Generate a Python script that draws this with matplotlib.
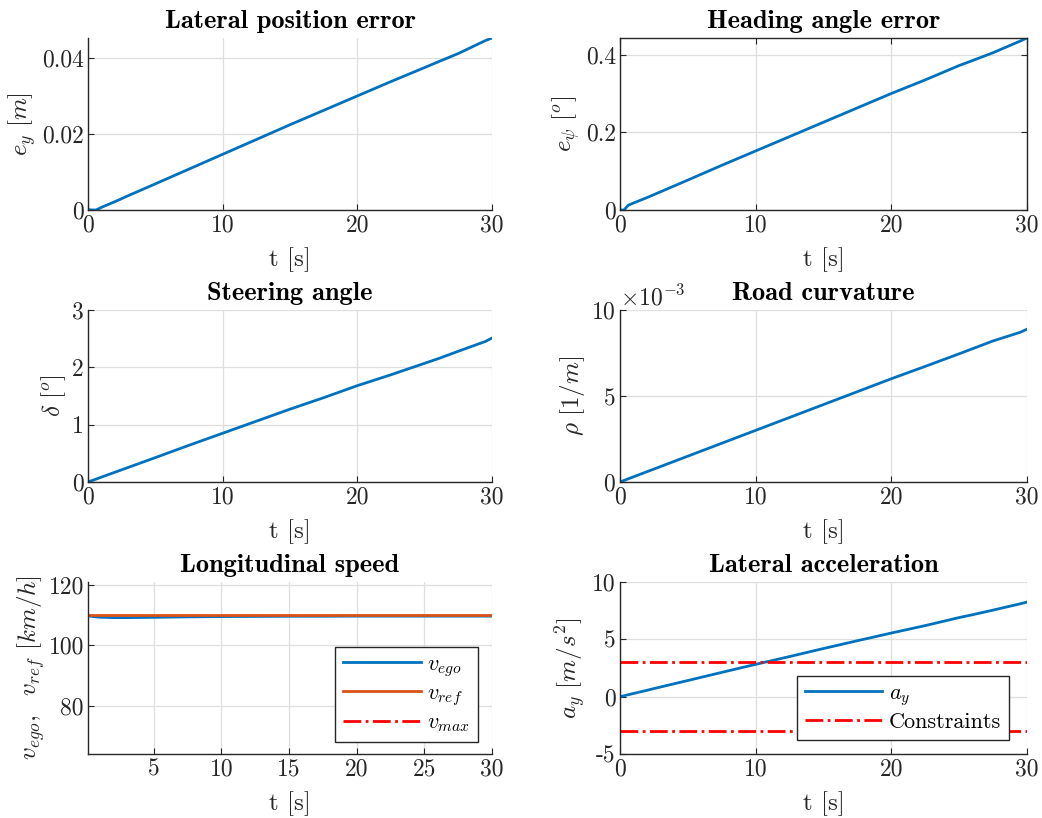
import matplotlib
matplotlib.use("Agg")
import matplotlib.pyplot as plt
from matplotlib.ticker import FuncFormatter

plt.rcParams['font.family'] = 'serif'
plt.rcParams['font.serif'] = ['cmr10']
plt.rcParams['mathtext.fontset'] = 'cm'
plt.rcParams['axes.formatter.use_mathtext'] = True
plt.rcParams['axes.unicode_minus'] = False

# time samples [s]
t = [0, 0.3, 0.6, 1, 2, 3, 5, 7.5, 10, 12.5, 15, 17.5, 20, 22.5, 25, 26, 27.5, 29.5, 30]

# lateral position error [m]
e_y = [0, -0.0001, -0.0001, 0.0006, 0.0021, 0.0037, 0.0068, 0.0107, 0.0146, 0.0185,
       0.0224, 0.0262, 0.0300, 0.0338, 0.0375, 0.0390, 0.0412, 0.0446, 0.0453]
# heading angle error [deg]
e_psi = [0, 0.0, 0.012, 0.018, 0.032, 0.047, 0.077, 0.115, 0.152, 0.189,
         0.226, 0.263, 0.300, 0.335, 0.372, 0.385, 0.405, 0.435, 0.443]
# steering angle [deg]
delta = [0, 0.025, 0.05, 0.085, 0.17, 0.255, 0.425, 0.64, 0.85, 1.06,
         1.27, 1.47, 1.68, 1.87, 2.07, 2.15, 2.28, 2.45, 2.51]
# road curvature [1/m]
rho = [0, 0.00009, 0.00018, 0.0003, 0.0006, 0.0009, 0.0015, 0.00225, 0.0030, 0.00375,
       0.0045, 0.00525, 0.0060, 0.00672, 0.00745, 0.00775, 0.0082, 0.0087, 0.00888]
# longitudinal speed [km/h]
v_ego = [110.0, 109.7, 109.5, 109.35, 109.2, 109.2, 109.3, 109.45, 109.55, 109.6,
         109.65, 109.65, 109.7, 109.7, 109.7, 109.7, 109.7, 109.7, 109.7]
v_ref = [110.0] * len(t)
v_max = [130.0] * len(t)
# lateral acceleration [m/s^2]
a_y = [0, 0.08, 0.17, 0.28, 0.56, 0.85, 1.41, 2.12, 2.82, 3.5,
       4.2, 4.88, 5.55, 6.2, 6.9, 7.15, 7.55, 8.1, 8.25]
a_max = [3.0] * len(t)
a_min = [-3.0] * len(t)

blue = '#0072BD'
orange = '#D95319'
red = '#FF0000'
dark = '#262626'
fs = 17     # tick labels
lfs = 18    # axis labels
tfs = 19    # titles
gfs = 16    # legend

fig = plt.figure(figsize=(10.42, 8.18), dpi=100)

left_x, left_w = 0.0845, 0.3877
right_x, right_w = 0.595, 0.3906
rows = [0.7433, 0.4108, 0.0782]
h = 0.2103

gfmt = FuncFormatter(lambda v, p: '%g' % v)


def style(ax, box=False):
    for s in ax.spines.values():
        s.set_color(dark)
        s.set_linewidth(1.0)
    if not box:
        ax.spines['top'].set_visible(False)
        ax.spines['right'].set_visible(False)
    ax.tick_params(direction='in', length=4, width=0.8, colors=dark,
                   labelsize=fs, labelcolor=dark, top=box, right=box, pad=3)
    ax.grid(True, color='#dfdfdf', linewidth=0.9)
    ax.set_axisbelow(True)
    ax.xaxis.set_major_formatter(gfmt)
    ax.set_xlabel('t [s]', fontsize=lfs, color=dark, labelpad=8)


def title(ax, s):
    ax.set_title(s, fontfamily='cmb10', fontsize=tfs, color='black', pad=7)


def legend(ax, anchor):
    leg = ax.legend(loc='lower right', bbox_to_anchor=anchor, borderaxespad=0,
                    fancybox=False, edgecolor=dark, framealpha=1, fontsize=gfs,
                    handlelength=3.5, handletextpad=0.3, labelspacing=0.22,
                    borderpad=0.35)
    leg.get_frame().set_linewidth(1.0)


# Lateral position error
ax1 = fig.add_axes([left_x, rows[0], left_w, h])
ax1.plot(t, e_y, color=blue, lw=2)
ax1.set_xlim(0, 30)
ax1.set_ylim(-0.0001, max(e_y))
ax1.set_xticks([0, 10, 20, 30])
ax1.set_yticks([0, 0.02, 0.04])
ax1.yaxis.set_major_formatter(gfmt)
style(ax1)
title(ax1, 'Lateral position error')
ax1.set_ylabel('$e_y\\ [m]$', fontsize=lfs, color=dark, labelpad=3)

# Heading angle error
ax2 = fig.add_axes([right_x, rows[0], right_w, h])
ax2.plot(t, e_psi, color=blue, lw=2)
ax2.set_xlim(0, 30)
ax2.set_ylim(0, max(e_psi))
ax2.set_xticks([0, 10, 20, 30])
ax2.set_yticks([0, 0.2, 0.4])
ax2.yaxis.set_major_formatter(gfmt)
style(ax2, box=True)
title(ax2, 'Heading angle error')
ax2.set_ylabel('$e_\\psi\\ [^o]$', fontsize=lfs, color=dark, labelpad=3)

# Steering angle
ax3 = fig.add_axes([left_x, rows[1], left_w, h])
ax3.plot(t, delta, color=blue, lw=2)
ax3.set_xlim(0, 30)
ax3.set_ylim(0, 3)
ax3.set_xticks([0, 10, 20, 30])
ax3.set_yticks([0, 1, 2, 3])
ax3.yaxis.set_major_formatter(gfmt)
style(ax3)
title(ax3, 'Steering angle')
ax3.set_ylabel('$\\delta\\ [^o]$', fontsize=lfs, color=dark, labelpad=3)

# Road curvature
ax4 = fig.add_axes([right_x, rows[1], right_w, h])
ax4.plot(t, rho, color=blue, lw=2)
ax4.set_xlim(0, 30)
ax4.set_ylim(0, 0.01)
ax4.set_xticks([0, 10, 20, 30])
ax4.set_yticks([0, 0.005, 0.01])
ax4.ticklabel_format(axis='y', style='sci', scilimits=(-3, -3))
style(ax4)
ax4.yaxis.get_offset_text().set_fontsize(fs)
ax4.yaxis.get_offset_text().set_color(dark)
title(ax4, 'Road curvature')
ax4.set_ylabel('$\\rho\\ [1/m]$', fontsize=lfs, color=dark, labelpad=3)

# Longitudinal speed
ax5 = fig.add_axes([left_x, rows[2], left_w, h])
ax5.plot(t, v_ego, color=blue, lw=2, label='$v_{ego}$')
ax5.plot(t, v_ref, color=orange, lw=2, label='$v_{ref}$')
ax5.plot(t, v_max, color=red, lw=2, ls='-.', label='$v_{max}$')
ax5.set_xlim(0.15, 30)
ax5.set_ylim(64, 121)
ax5.set_xticks([5, 10, 15, 20, 25, 30])
ax5.set_yticks([80, 100, 120])
ax5.yaxis.set_major_formatter(gfmt)
style(ax5)
title(ax5, 'Longitudinal speed')
ax5.set_ylabel('$v_{ego},\\ \\ v_{ref}\\ [km/h]$', fontsize=lfs, color=dark, labelpad=1)
legend(ax5, (0.965, 0.07))

# Lateral acceleration
ax6 = fig.add_axes([right_x, rows[2], right_w, h])
ax6.plot(t, a_y, color=blue, lw=2, label='$a_y$')
ax6.plot(t, a_max, color=red, lw=2, ls='-.', label='Constraints')
ax6.plot(t, a_min, color=red, lw=2, ls='-.')
ax6.set_xlim(0, 30)
ax6.set_ylim(-5, 10)
ax6.set_xticks([0, 10, 20, 30])
ax6.set_yticks([-5, 0, 5, 10])
ax6.yaxis.set_major_formatter(gfmt)
style(ax6)
title(ax6, 'Lateral acceleration')
ax6.set_ylabel('$a_y\\ [m/s^2]$', fontsize=lfs, color=dark, labelpad=3)
legend(ax6, (0.956, 0.082))

fig.savefig('out.png', dpi=100)
